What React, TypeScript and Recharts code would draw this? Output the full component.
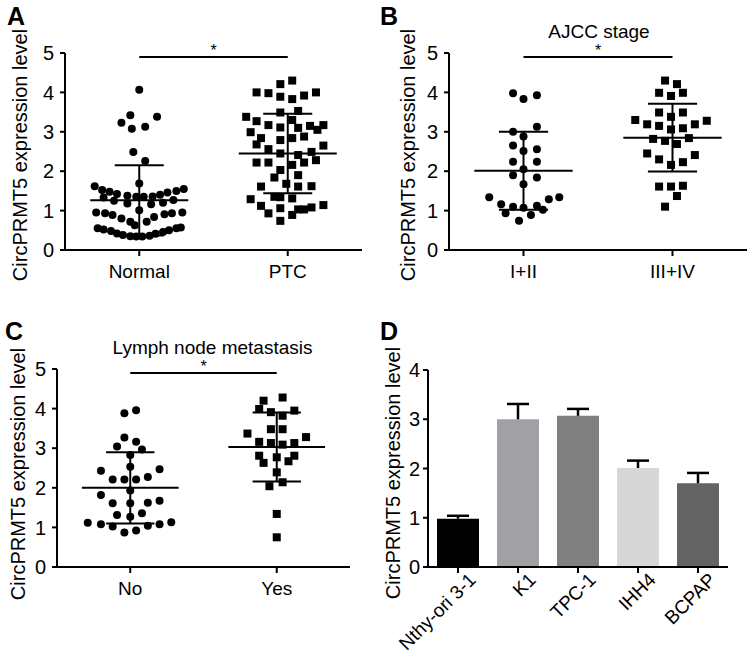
import React from "react";
import {
  ScatterChart,
  Scatter,
  XAxis,
  YAxis,
  ReferenceLine,
  BarChart,
  Bar,
  Cell,
} from "recharts";

const FONT = '"Liberation Sans", Arial, Helvetica, sans-serif';
const INK = "#000";

// [horizontal jitter (category units), expression level]
// A: tissue
const tissueGroups = ["Normal", "PTC"];
const normalPts: [number, number][] = [
  [0, 4.07], [-0.06, 3.42], [0.12, 3.38], [-0.12, 3.23], [-0.05, 3.08], [0.04, 3.13],
  [-0.04, 2.49], [0.04, 2.26], [0, 1.69],
  [-0.3, 1.62], [-0.25, 1.52], [-0.2, 1.48], [-0.15, 1.42], [-0.08, 1.38], [-0.02, 1.35],
  [0.03, 1.35], [0.09, 1.36], [0.14, 1.4], [0.19, 1.46], [0.25, 1.5], [0.3, 1.55],
  [-0.24, 1.33], [-0.17, 1.25], [-0.08, 1.18], [0.08, 1.16], [0.16, 1.2], [0.23, 1.27],
  [-0.29, 0.95], [-0.23, 0.93], [-0.18, 0.89], [-0.12, 0.8], [-0.06, 0.72], [-0.03, 0.63],
  [0, 1.01], [0.05, 0.72], [0.1, 0.84], [0.17, 0.91], [0.22, 0.93], [0.29, 0.95],
  [-0.28, 0.55], [-0.24, 0.52], [-0.19, 0.48], [-0.15, 0.42], [-0.11, 0.38], [-0.06, 0.35],
  [-0.02, 0.34], [0.02, 0.34], [0.07, 0.36], [0.11, 0.41], [0.16, 0.46], [0.2, 0.5],
  [0.25, 0.55], [0.28, 0.57],
];
const ptcPts: [number, number][] = [
  [-0.05, 4.21], [0.03, 4.3], [-0.21, 4.0], [-0.13, 3.98], [-0.05, 3.89], [0.03, 3.83],
  [0.11, 3.92], [0.19, 4.0],
  [-0.05, 3.49], [0.07, 3.53], [-0.28, 3.38], [-0.21, 3.27], [-0.13, 3.17], [-0.05, 3.11],
  [0.03, 3.3], [0.07, 3.1], [0.15, 3.15], [0.2, 3.05], [0.24, 3.17],
  [-0.25, 2.99], [-0.18, 2.84], [-0.05, 2.79], [0.03, 2.84], [0.11, 2.88], [-0.21, 2.68],
  [-0.13, 2.56], [0.24, 2.65],
  [-0.05, 2.45], [0.07, 2.41], [0.16, 2.49],
  [-0.21, 2.22], [-0.13, 2.22], [-0.05, 2.03], [0.03, 2.16], [0.11, 2.22], [0.19, 2.28],
  [-0.09, 1.84], [0.07, 1.9], [-0.18, 1.61], [-0.01, 1.68], [0.07, 1.61], [0.16, 1.62],
  [-0.09, 1.35], [-0.05, 1.34], [0.03, 1.31], [-0.25, 1.29],
  [-0.18, 1.12], [-0.13, 0.93], [-0.05, 1.06], [0.03, 0.89], [0.07, 1.03], [0.11, 1.03],
  [0.16, 1.08], [0.24, 1.14], [-0.05, 0.74],
];
const tissueMean = [1.26, 2.45];
const tissueSd = [0.89, 1.01];

// B: AJCC stage
const stageGroups = ["I+II", "III+IV"];
const earlyPts: [number, number][] = [
  [-0.07, 3.98], [0, 3.83], [0.09, 3.93], [0.09, 3.13], [-0.07, 3.0], [0, 2.88],
  [-0.07, 2.65], [0, 2.51], [0.09, 2.56], [-0.07, 2.24], [0.09, 2.24], [0, 2.05],
  [-0.07, 1.9], [0.09, 1.84], [0, 1.67], [-0.23, 1.34], [0.24, 1.34], [0.17, 1.29],
  [-0.15, 1.16], [-0.07, 1.1], [0, 1.07], [0.09, 1.12], [0.13, 1.02], [-0.12, 0.93],
  [0.05, 0.89], [-0.03, 0.74],
];
const latePts: [number, number][] = [
  [-0.05, 4.3], [0.03, 4.21], [-0.09, 3.99], [-0.01, 3.91], [0.07, 3.99],
  [-0.09, 3.49], [-0.01, 3.38], [0.07, 3.49], [-0.25, 3.3], [-0.17, 3.19], [-0.09, 3.15],
  [-0.01, 3.06], [0.07, 3.09], [0.15, 3.19], [0.23, 3.28],
  [-0.13, 2.82], [-0.05, 2.77], [0.03, 2.69], [0.11, 2.84],
  [-0.17, 2.45], [-0.09, 2.3], [-0.01, 2.16], [0.07, 2.23], [0.15, 2.41],
  [-0.09, 1.61], [-0.01, 1.61], [0.07, 1.63], [0.03, 1.37], [-0.05, 1.1],
];
const stageMean = [2.01, 2.85];
const stageSd = [0.99, 0.86];

// C: lymph node metastasis
const lymphGroups = ["No", "Yes"];
const noMetPts: [number, number][] = [
  [-0.04, 3.88], [0.04, 3.96], [-0.04, 3.27], [0.04, 3.16], [-0.09, 3.04], [0.08, 2.97],
  [0, 2.83], [0, 2.53], [-0.2, 2.43], [0.2, 2.47], [-0.12, 2.21], [-0.04, 2.21],
  [0.04, 2.21], [0.12, 2.27], [0, 1.93], [-0.2, 1.82], [-0.12, 1.61], [0, 1.61],
  [0.12, 1.62], [0.2, 1.67], [-0.09, 1.31], [0, 1.27], [0.08, 1.36],
  [-0.29, 1.12], [-0.2, 1.08], [-0.12, 1.02], [-0.04, 0.87], [0.04, 0.92], [0.12, 1.04],
  [0.2, 1.08], [0.28, 1.13],
];
const metPts: [number, number][] = [
  [-0.09, 4.2], [0.04, 4.28], [-0.12, 3.99], [-0.04, 3.91], [0.04, 3.82], [0.12, 3.95],
  [-0.04, 3.48], [0.04, 3.48], [-0.2, 3.37], [-0.12, 3.16], [-0.04, 3.13], [0.04, 3.09],
  [0.12, 3.13], [0.2, 3.28], [-0.12, 2.81], [0, 2.77], [0.12, 2.81], [-0.09, 2.63],
  [0.08, 2.67], [0, 2.39], [-0.05, 2.04], [0.04, 2.14], [0, 1.34], [0, 0.75],
];
const lymphMean = [2.0, 3.03];
const lymphSd = [0.9, 0.87];

// D: cell lines
const cellLines = ["Nthy-ori 3-1", "K1", "TPC-1", "IHH4", "BCPAP"];
const cellMean = [0.98, 3.0, 3.07, 2.01, 1.7];
const cellSd = [0.06, 0.31, 0.14, 0.15, 0.21];
const cellColors = ["#000000", "#a1a1a5", "#808080", "#d7d7d7", "#636363"];

const ticks5 = [0, 1, 2, 3, 4, 5];
const ticks4 = [0, 1, 2, 3, 4];

const xTickFont = { fill: INK, fontSize: 19, fontFamily: FONT };
const yTickFont = { fill: INK, fontSize: 20, fontFamily: FONT };

const Dot = (p: any) => <circle cx={p.cx} cy={p.cy} r={4} fill={INK} />;
const Square = (p: any) => (
  <rect x={p.cx - 4} y={p.cy - 4} width={8} height={8} fill={INK} />
);

function YTitle({ tx, ty }: { tx: number; ty: number }) {
  return (
    <text
      x={tx}
      y={ty}
      transform={`rotate(-90 ${tx} ${ty})`}
      textAnchor="middle"
      dominantBaseline="central"
      fontFamily={FONT}
      fontSize={20}
      fill={INK}
    >
      CircPRMT5 expression level
    </text>
  );
}

interface DotPanelProps {
  left: number;
  top: number;
  width: number;
  height: number;
  margin: { top: number; right: number; bottom: number; left: number };
  groups: string[];
  sets: [number, number][][];
  means: number[];
  sds: number[];
  labelX: number;
  labelY: number;
}

function DotPanel(p: DotPanelProps) {
  const series = p.sets.map((pts, g) =>
    pts.map(([dx, v]) => ({ x: g + 1 + dx, y: v }))
  );

  // mean line plus SD whiskers for each group
  const summary: React.ReactNode[] = [];
  p.means.forEach((m, g) => {
    const c = g + 1;
    const hi = m + p.sds[g];
    const lo = m - p.sds[g];
    const line = { stroke: INK, strokeWidth: 2 };
    summary.push(
      <ReferenceLine key={`m${g}`} segment={[{ x: c - 0.33, y: m }, { x: c + 0.33, y: m }]} {...line} />,
      <ReferenceLine key={`v${g}`} segment={[{ x: c, y: lo }, { x: c, y: hi }]} {...line} />,
      <ReferenceLine key={`h${g}`} segment={[{ x: c - 0.165, y: hi }, { x: c + 0.165, y: hi }]} {...line} />,
      <ReferenceLine key={`l${g}`} segment={[{ x: c - 0.165, y: lo }, { x: c + 0.165, y: lo }]} {...line} />
    );
  });

  return (
    <div style={{ position: "absolute", left: p.left, top: p.top }}>
      <ScatterChart width={p.width} height={p.height} margin={p.margin}>
        <XAxis
          type="number"
          dataKey="x"
          domain={[0.5, 2.5]}
          ticks={[1, 2]}
          tickFormatter={(v) => p.groups[Math.round(v) - 1]}
          stroke={INK}
          strokeWidth={2}
          tickSize={6}
          tickMargin={9}
          tick={xTickFont}
          height={30}
        />
        <YAxis
          type="number"
          dataKey="y"
          domain={[0, 5]}
          ticks={ticks5}
          stroke={INK}
          strokeWidth={2}
          tickSize={5}
          tickMargin={6}
          tick={yTickFont}
          width={30}
          label={<YTitle tx={p.labelX} ty={p.labelY} />}
        />
        {summary}
        <ReferenceLine
          segment={[{ x: 1, y: 4.9 }, { x: 2, y: 4.9 }]}
          stroke={INK}
          strokeWidth={2}
          label={{ value: "*", position: "top", offset: 1, fill: INK, fontSize: 16, fontFamily: FONT }}
        />
        <Scatter data={series[0]} shape={Dot} isAnimationActive={false} />
        <Scatter data={series[1]} shape={Square} isAnimationActive={false} />
      </ScatterChart>
    </div>
  );
}

// upward-only error whisker drawn on the stacked sd segment
function ErrCap(p: any) {
  const cx = p.x + p.width / 2;
  return (
    <g>
      <line x1={cx} x2={cx} y1={p.y + p.height} y2={p.y} stroke={INK} strokeWidth={2.5} />
      <line x1={cx - 11} x2={cx + 11} y1={p.y} y2={p.y} stroke={INK} strokeWidth={2.5} />
    </g>
  );
}

function SlantTick(p: any) {
  const x = p.x + 19;
  const y = p.y + 8;
  return (
    <text
      x={x}
      y={y}
      transform={`rotate(-45 ${x} ${y})`}
      textAnchor="end"
      fontFamily={FONT}
      fontSize={19}
      fill={INK}
    >
      {p.payload.value}
    </text>
  );
}

function CellPanel() {
  const data = cellLines.map((name, i) => ({
    name,
    mean: cellMean[i],
    sd: cellSd[i],
  }));
  return (
    <div style={{ position: "absolute", left: 375, top: 330 }}>
      <BarChart
        width={375}
        height={329}
        data={data}
        margin={{ top: 40, right: 22, bottom: 32, left: 23 }}
      >
        <XAxis
          dataKey="name"
          stroke={INK}
          strokeWidth={2}
          tickSize={6}
          tickMargin={0}
          tick={<SlantTick />}
          interval={0}
          height={60}
        />
        <YAxis
          type="number"
          domain={[0, 4]}
          ticks={ticks4}
          stroke={INK}
          strokeWidth={2}
          tickSize={5}
          tickMargin={3}
          tick={yTickFont}
          width={30}
          label={<YTitle tx={17.5} ty={143} />}
        />
        <Bar dataKey="mean" stackId="s" barSize={42} isAnimationActive={false}>
          {cellColors.map((c, i) => (
            <Cell key={i} fill={c} />
          ))}
        </Bar>
        <Bar dataKey="sd" stackId="s" barSize={42} shape={ErrCap} isAnimationActive={false} />
      </BarChart>
    </div>
  );
}

export default function App() {
  return (
    <div
      style={{
        position: "absolute",
        left: 0,
        top: 0,
        width: 750,
        height: 659,
        background: "#fff",
        fontFamily: FONT,
      }}
    >
      <DotPanel
        left={0}
        top={0}
        width={375}
        height={330}
        margin={{ top: 53, right: 13, bottom: 50, left: 35 }}
        groups={tissueGroups}
        sets={[normalPts, ptcPts]}
        means={tissueMean}
        sds={tissueSd}
        labelX={20}
        labelY={155}
      />
      <DotPanel
        left={375}
        top={0}
        width={375}
        height={330}
        margin={{ top: 53, right: 3, bottom: 50, left: 44 }}
        groups={stageGroups}
        sets={[earlyPts, latePts]}
        means={stageMean}
        sds={stageSd}
        labelX={33}
        labelY={155}
      />
      <DotPanel
        left={0}
        top={330}
        width={375}
        height={329}
        margin={{ top: 39, right: 25, bottom: 62, left: 27 }}
        groups={lymphGroups}
        sets={[noMetPts, metPts]}
        means={lymphMean}
        sds={lymphSd}
        labelX={17.5}
        labelY={144}
      />
      <CellPanel />
      <svg
        width={750}
        height={659}
        style={{ position: "absolute", left: 0, top: 0, pointerEvents: "none" }}
      >
        <g fontFamily={FONT} fontWeight="bold" fontSize={25} fill={INK}>
          <text x={7} y={25}>A</text>
          <text x={380} y={25}>B</text>
          <text x={5} y={340}>C</text>
          <text x={380} y={340}>D</text>
        </g>
        <g fontFamily={FONT} fontSize={19} fill={INK} textAnchor="middle">
          <text x={599} y={37.5}>AJCC stage</text>
          <text x={212.5} y={353.5}>Lymph node metastasis</text>
        </g>
      </svg>
    </div>
  );
}
